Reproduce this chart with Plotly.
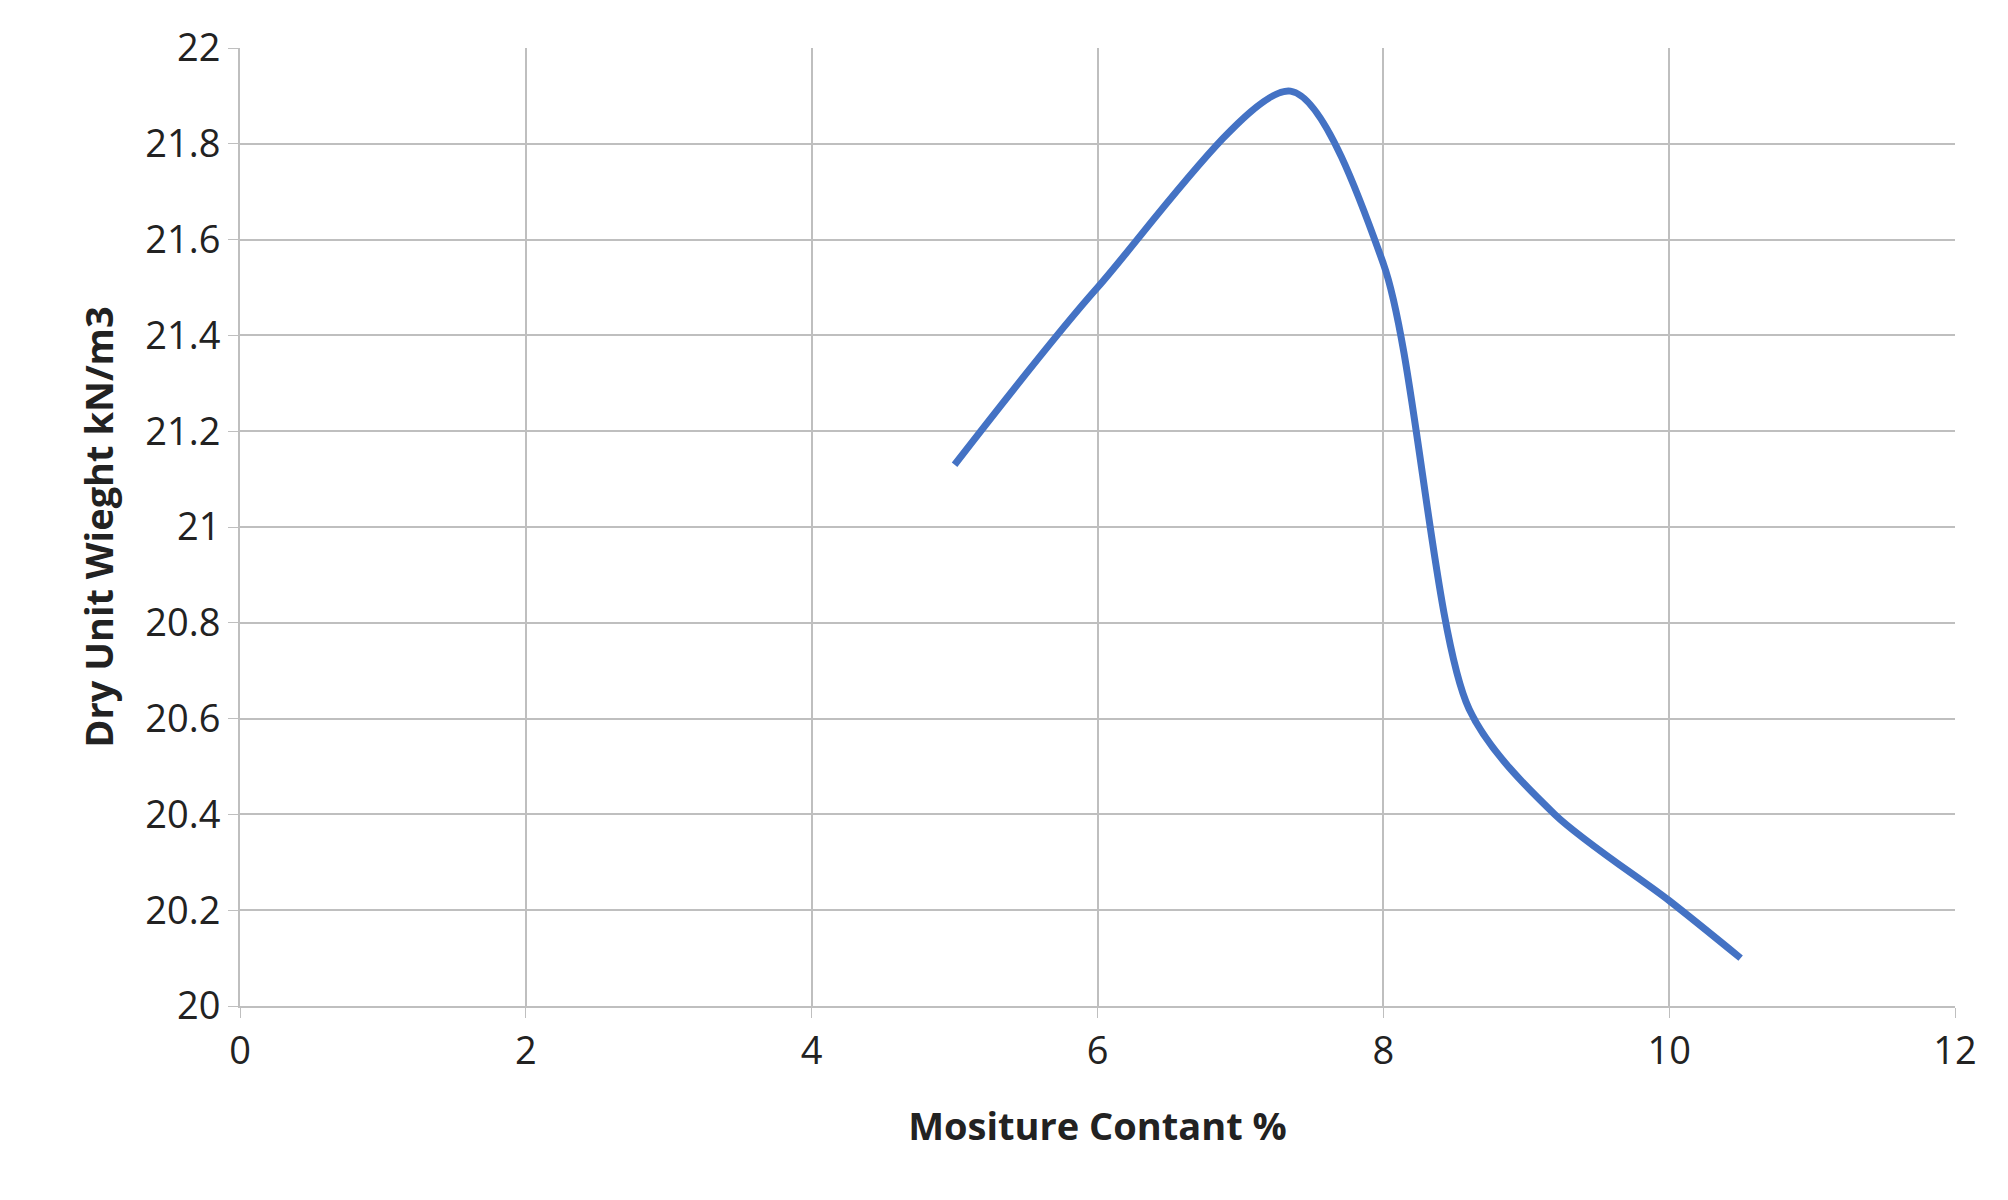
import plotly.graph_objects as go

moisture = [5.0, 6.0, 7.35, 8.0, 8.6, 9.2, 10.0, 10.5]
dry_unit_weight = [21.13, 21.5, 21.91, 21.55, 20.62, 20.4, 20.22, 20.1]
x_ticks = [0, 2, 4, 6, 8, 10, 12]
y_ticks = [20, 20.2, 20.4, 20.6, 20.8, 21, 21.2, 21.4, 21.6, 21.8, 22]
y_labels = ["20", "20.2", "20.4", "20.6", "20.8", "21", "21.2", "21.4", "21.6", "21.8", "22"]

fig = go.Figure(go.Scatter(x=moisture, y=dry_unit_weight, mode="lines",
                           line=dict(color="#4472C4", width=7, shape="spline", smoothing=0.8)))
fig.update_layout(
    width=2008, height=1200, paper_bgcolor="white", plot_bgcolor="white",
    margin=dict(l=232, r=61, t=36, b=202), showlegend=False,
    font=dict(family="Open Sans, Liberation Sans, sans-serif", color="#222", size=38),
)
fig.update_xaxes(range=[0, 12], tickvals=x_ticks, showgrid=True, gridcolor="#bfbfbf", gridwidth=2,
                 showline=True, linecolor="#bfbfbf", linewidth=2, ticks="outside", ticklen=10,
                 tickcolor="#bfbfbf", zeroline=False,
                 title=dict(text="<b>Mositure Contant %</b>", font=dict(size=38), standoff=40))
fig.update_yaxes(range=[20, 22], tickvals=y_ticks, ticktext=y_labels, showgrid=True, gridcolor="#bfbfbf",
                 gridwidth=2, showline=True, linecolor="#bfbfbf", linewidth=2, ticks="outside",
                 ticklen=10, tickcolor="#bfbfbf", zeroline=False,
                 title=dict(text="<b>Dry Unit Wieght kN/m3</b>", font=dict(size=38), standoff=20))
fig.write_html("out.html")
